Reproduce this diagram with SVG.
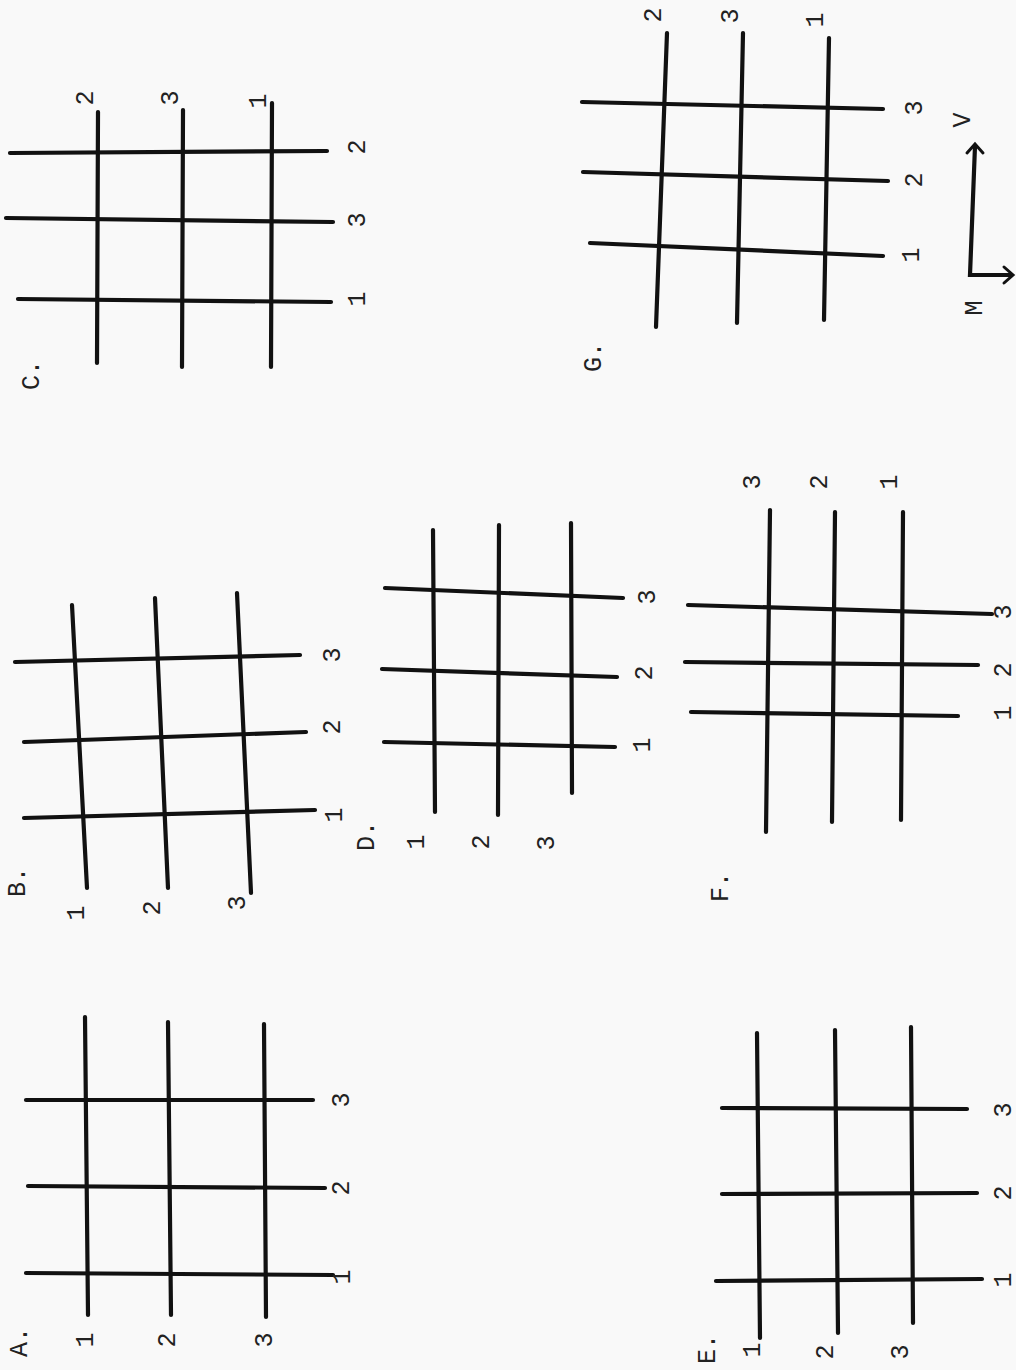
<svg xmlns="http://www.w3.org/2000/svg" width="1016" height="1370" viewBox="0 0 1016 1370">
<style>
.l{stroke:#111;stroke-width:4.2;stroke-linecap:round;fill:none}
.t{font-family:"Liberation Mono","Courier New",monospace;font-size:25px;fill:#222;text-anchor:middle;dominant-baseline:central}
</style>
<rect width="1016" height="1370" fill="#f9f9f9"/>

<g id="panelA">
<line class="l" x1="85" y1="1017" x2="88" y2="1315"/>
<line class="l" x1="168" y1="1022" x2="171" y2="1315"/>
<line class="l" x1="264" y1="1024" x2="266" y2="1317"/>
<line class="l" x1="26" y1="1100" x2="313" y2="1100"/>
<line class="l" x1="28" y1="1186" x2="325" y2="1188"/>
<line class="l" x1="26" y1="1273" x2="333" y2="1275"/>
<text class="t" transform="rotate(-90 342 1100)" x="342" y="1100">3</text>
<text class="t" transform="rotate(-90 342 1188)" x="342" y="1188">2</text>
<text class="t" transform="rotate(-90 343 1277)" x="343" y="1277">1</text>
<text class="t" transform="rotate(-90 86 1340)" x="86" y="1340">1</text>
<text class="t" transform="rotate(-90 168 1340)" x="168" y="1340">2</text>
<text class="t" transform="rotate(-90 265 1340)" x="265" y="1340">3</text>
<text class="t" transform="rotate(-90 20 1342)" x="20" y="1342">A.</text>
</g>

<g id="panelB">
<line class="l" x1="72" y1="605" x2="87" y2="888"/>
<line class="l" x1="155" y1="598" x2="168" y2="888"/>
<line class="l" x1="237" y1="593" x2="251" y2="893"/>
<line class="l" x1="15" y1="662" x2="300" y2="655"/>
<line class="l" x1="24" y1="742" x2="306" y2="732"/>
<line class="l" x1="24" y1="818" x2="315" y2="810"/>
<text class="t" transform="rotate(-90 333 655)" x="333" y="655">3</text>
<text class="t" transform="rotate(-90 333 727)" x="333" y="727">2</text>
<text class="t" transform="rotate(-90 335 815)" x="335" y="815">1</text>
<text class="t" transform="rotate(-90 77 913)" x="77" y="913">1</text>
<text class="t" transform="rotate(-90 153 908)" x="153" y="908">2</text>
<text class="t" transform="rotate(-90 238 903)" x="238" y="903">3</text>
<text class="t" transform="rotate(-90 18 882)" x="18" y="882">B.</text>
</g>

<g id="panelC">
<line class="l" x1="98" y1="112" x2="97" y2="363"/>
<line class="l" x1="183" y1="110" x2="182" y2="367"/>
<line class="l" x1="272" y1="103" x2="271" y2="367"/>
<line class="l" x1="10" y1="153" x2="327" y2="151"/>
<line class="l" x1="6" y1="218" x2="333" y2="222"/>
<line class="l" x1="18" y1="299" x2="331" y2="302"/>
<text class="t" transform="rotate(-90 358 147)" x="358" y="147">2</text>
<text class="t" transform="rotate(-90 358 220)" x="358" y="220">3</text>
<text class="t" transform="rotate(-90 358 299)" x="358" y="299">1</text>
<text class="t" transform="rotate(-90 86 98)" x="86" y="98">2</text>
<text class="t" transform="rotate(-90 171 98)" x="171" y="98">3</text>
<text class="t" transform="rotate(-90 259 101)" x="259" y="101">1</text>
<text class="t" transform="rotate(-90 32 375)" x="32" y="375">C.</text>
</g>

<g id="panelD">
<line class="l" x1="433" y1="530" x2="435" y2="812"/>
<line class="l" x1="499" y1="525" x2="498" y2="815"/>
<line class="l" x1="571" y1="523" x2="572" y2="793"/>
<line class="l" x1="385" y1="588" x2="623" y2="598"/>
<line class="l" x1="382" y1="669" x2="617" y2="677"/>
<line class="l" x1="384" y1="742" x2="615" y2="747"/>
<text class="t" transform="rotate(-90 648 597)" x="648" y="597">3</text>
<text class="t" transform="rotate(-90 645 673)" x="645" y="673">2</text>
<text class="t" transform="rotate(-90 643 745)" x="643" y="745">1</text>
<text class="t" transform="rotate(-90 417 842)" x="417" y="842">1</text>
<text class="t" transform="rotate(-90 482 842)" x="482" y="842">2</text>
<text class="t" transform="rotate(-90 547 843)" x="547" y="843">3</text>
<text class="t" transform="rotate(-90 367 836)" x="367" y="836">D.</text>
</g>

<g id="panelE">
<line class="l" x1="757" y1="1033" x2="760" y2="1338"/>
<line class="l" x1="835" y1="1030" x2="838" y2="1333"/>
<line class="l" x1="911" y1="1027" x2="913" y2="1323"/>
<line class="l" x1="722" y1="1108" x2="967" y2="1109"/>
<line class="l" x1="722" y1="1194" x2="977" y2="1193"/>
<line class="l" x1="716" y1="1281" x2="982" y2="1279"/>
<text class="t" transform="rotate(-90 1004 1110)" x="1004" y="1110">3</text>
<text class="t" transform="rotate(-90 1004 1193)" x="1004" y="1193">2</text>
<text class="t" transform="rotate(-90 1004 1280)" x="1004" y="1280">1</text>
<text class="t" transform="rotate(-90 753 1350)" x="753" y="1350">1</text>
<text class="t" transform="rotate(-90 826 1352)" x="826" y="1352">2</text>
<text class="t" transform="rotate(-90 901 1352)" x="901" y="1352">3</text>
<text class="t" transform="rotate(-90 708 1349)" x="708" y="1349">E.</text>
</g>

<g id="panelF">
<line class="l" x1="770" y1="510" x2="766" y2="832"/>
<line class="l" x1="835" y1="512" x2="832" y2="822"/>
<line class="l" x1="903" y1="512" x2="901" y2="820"/>
<line class="l" x1="688" y1="605" x2="992" y2="614"/>
<line class="l" x1="685" y1="662" x2="978" y2="665"/>
<line class="l" x1="691" y1="712" x2="958" y2="716"/>
<text class="t" transform="rotate(-90 1004 612)" x="1004" y="612">3</text>
<text class="t" transform="rotate(-90 1004 670)" x="1004" y="670">2</text>
<text class="t" transform="rotate(-90 1004 713)" x="1004" y="713">1</text>
<text class="t" transform="rotate(-90 753 482)" x="753" y="482">3</text>
<text class="t" transform="rotate(-90 820 482)" x="820" y="482">2</text>
<text class="t" transform="rotate(-90 890 482)" x="890" y="482">1</text>
<text class="t" transform="rotate(-90 721 887)" x="721" y="887">F.</text>
</g>

<g id="panelG">
<line class="l" x1="667" y1="33" x2="656" y2="327"/>
<line class="l" x1="743" y1="33" x2="737" y2="323"/>
<line class="l" x1="829" y1="38" x2="824" y2="320"/>
<line class="l" x1="582" y1="102" x2="883" y2="109"/>
<line class="l" x1="583" y1="172" x2="888" y2="181"/>
<line class="l" x1="590" y1="243" x2="883" y2="256"/>
<text class="t" transform="rotate(-90 915 108)" x="915" y="108">3</text>
<text class="t" transform="rotate(-90 915 180)" x="915" y="180">2</text>
<text class="t" transform="rotate(-90 912 255)" x="912" y="255">1</text>
<text class="t" transform="rotate(-90 654 15)" x="654" y="15">2</text>
<text class="t" transform="rotate(-90 731 16)" x="731" y="16">3</text>
<text class="t" transform="rotate(-90 816 20)" x="816" y="20">1</text>
<text class="t" transform="rotate(-90 594 357)" x="594" y="357">G.</text>
<g id="axes">
<polyline class="l" points="975,146 970,275 1011,275" stroke-width="3"/>
<path d="M967,153 L975,144 L983,153" stroke="#111" stroke-width="3" fill="none" stroke-linecap="round"/>
<path d="M1004,267 L1013,275 L1004,283" stroke="#111" stroke-width="3" fill="none" stroke-linecap="round"/>
<text class="t" transform="rotate(-90 963 120)" x="963" y="120">V</text>
<text class="t" transform="rotate(-90 975 308)" x="975" y="308">M</text>
</g>
</g>
</svg>
